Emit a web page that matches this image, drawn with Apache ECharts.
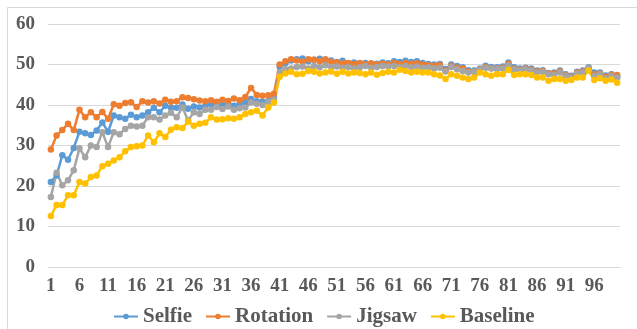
<!DOCTYPE html>
<html>
<head>
<meta charset="utf-8">
<script src="https://cdn.jsdelivr.net/npm/echarts@6/dist/echarts.min.js"></script>
<style>
  html, body { margin: 0; padding: 0; background: #fff; }
  #chart { width: 637px; height: 329px; }
</style>
</head>
<body>
<div id="chart"></div>
<script>
// epochs 1..100
const epochs = Array.from({ length: 100 }, (_, i) => String(i + 1))

const selfie = [
  21.0, 22.6, 27.6, 26.5, 29.4, 33.4, 33.0, 32.6, 33.7, 35.7,
  33.4, 37.4, 37.0, 36.6, 37.6, 37.0, 37.4, 38.2, 39.3, 38.2,
  39.8, 39.3, 39.3, 40.1, 39.1, 39.6, 39.4, 39.8, 40.2, 39.9,
  40.0, 40.3, 39.8, 40.3, 40.6, 41.5, 40.9, 40.8, 41.0, 41.8,
  49.5, 50.3, 51.0, 51.3, 51.5, 50.8, 51.2, 51.4, 50.8, 51.0,
  50.6, 50.9, 50.3, 50.5, 50.1, 50.4, 50.0, 50.2, 50.5, 50.3,
  50.8, 50.6, 50.9, 50.6, 50.8, 50.4, 50.1, 50.0, 50.1, 48.9,
  50.0, 49.6, 49.3, 48.6, 48.5, 49.0, 49.7, 49.4, 49.3, 49.5,
  50.5, 49.3, 49.0, 49.2, 49.0, 48.5, 48.6, 47.9, 48.0, 48.5,
  47.6, 47.2, 48.2, 48.5, 49.3, 48.0, 48.0, 47.3, 47.6, 47.0,
]

const rotation = [
  29.0, 32.5, 33.8, 35.4, 33.8, 38.8, 37.0, 38.2, 37.0, 38.3,
  36.6, 40.2, 39.8, 40.5, 40.7, 39.5, 40.9, 40.6, 40.9, 40.4,
  41.3, 40.8, 40.9, 41.9, 41.7, 41.4, 41.1, 40.9, 41.2, 40.8,
  41.3, 41.0, 41.6, 41.2, 42.0, 44.2, 42.5, 42.3, 42.4, 42.8,
  50.0, 50.8, 51.3, 51.0, 50.7, 51.3, 51.2, 50.8, 51.3, 50.7,
  50.5, 50.3, 50.4, 50.1, 50.4, 50.0, 50.3, 50.0, 50.2, 50.0,
  50.4, 50.1, 50.4, 50.2, 50.3, 50.0, 49.8, 49.7, 49.9, 48.5,
  49.6, 49.2, 49.0, 48.3, 48.2, 48.8, 49.4, 49.1, 49.0, 49.2,
  50.2, 49.0, 48.7, 49.0, 48.7, 48.3, 48.4, 47.8, 47.8, 48.3,
  47.4, 47.0, 48.0, 48.3, 49.0, 47.6, 47.8, 47.0, 47.5, 47.4,
]

const jigsaw = [
  17.3, 23.3, 20.2, 21.4, 23.9, 29.3, 27.1, 30.0, 29.6, 33.3,
  29.6, 33.3, 32.8, 34.1, 34.9, 34.7, 34.9, 37.0, 37.0, 36.4,
  37.4, 38.1, 37.0, 39.4, 36.2, 38.2, 37.8, 38.8, 38.8, 39.5,
  39.0, 39.6, 38.8, 39.2, 39.4, 40.6, 40.3, 40.0, 40.8, 41.3,
  48.0, 48.8, 49.0, 49.4, 49.5, 49.0, 49.6, 49.3, 49.8, 49.4,
  49.5, 49.2, 49.4, 49.0, 49.3, 49.6, 49.2, 49.4, 49.6, 49.5,
  49.6, 49.4, 49.6, 49.3, 49.5, 49.2, 49.3, 49.0, 49.2, 48.3,
  49.4, 48.8, 48.4, 48.0, 48.2, 48.8, 49.2, 49.0, 48.9, 49.0,
  49.8, 48.8, 48.6, 48.8, 48.5, 48.0, 48.2, 47.6, 47.4, 48.0,
  47.2, 46.8, 47.8, 48.0, 49.2, 47.2, 47.6, 46.6, 47.2, 46.7,
]

const baseline = [
  12.6, 15.3, 15.3, 17.7, 17.7, 21.0, 20.6, 22.2, 22.6, 24.9,
  25.5, 26.3, 27.1, 28.6, 29.6, 29.8, 30.0, 32.5, 30.8, 33.0,
  32.1, 33.9, 34.5, 34.3, 35.9, 34.9, 35.4, 35.6, 37.0, 36.4,
  36.5, 36.7, 36.6, 37.0, 37.8, 38.2, 38.6, 37.4, 39.4, 40.6,
  47.0, 47.8, 48.2, 47.6, 47.7, 48.4, 48.2, 47.8, 48.0, 48.3,
  47.7, 48.2, 47.8, 48.0, 47.9, 47.6, 48.0, 47.5, 47.9, 48.2,
  48.0, 48.7, 48.4, 48.0, 48.2, 48.0, 48.0, 47.6, 47.3, 46.4,
  47.6, 47.2, 46.8, 46.4, 46.8, 48.0, 47.6, 47.2, 47.6, 47.6,
  48.7, 47.4, 47.6, 47.6, 47.4, 46.8, 46.8, 46.0, 46.4, 46.4,
  46.0, 46.2, 46.8, 46.8, 48.5, 46.2, 46.6, 46.0, 46.3, 45.5,
]

const seriesNames = ["Selfie", "Rotation", "Jigsaw", "Baseline"]
const seriesData = [selfie, rotation, jigsaw, baseline]
const colors = ["#5B9BD5", "#ED7D31", "#A5A5A5", "#FFC000"]

const font = '"Liberation Serif", "Times New Roman", serif'
const textColor = "#595959"
const gridColor = "#D9D9D9"

const chart = echarts.init(document.getElementById("chart"))

const option = {
  backgroundColor: "#fff",
  animation: false,
  color: colors,
  graphic: [
    {
      type: "rect",
      shape: { x: 7.5, y: 7.5, width: 640, height: 340 },
      style: { fill: "none", stroke: gridColor, lineWidth: 1 },
      silent: true,
    },
  ],
  grid: {
    left: 48,
    right: 17,
    top: 24,
    bottom: 62,
  },
  legend: {
    data: seriesNames,
    left: 108,
    top: 301,
    itemWidth: 24,
    itemHeight: 7,
    itemGap: 13,
    textStyle: {
      fontFamily: font,
      fontWeight: "bold",
      fontSize: 21,
      color: textColor,
    },
  },
  xAxis: {
    type: "category",
    data: epochs,
    boundaryGap: true,
    axisLine: { lineStyle: { color: gridColor, width: 1 } },
    axisTick: { show: false },
    axisLabel: {
      interval: 4,
      margin: 10,
      fontFamily: font,
      fontWeight: "bold",
      fontSize: 19,
      color: textColor,
    },
  },
  yAxis: {
    type: "value",
    min: 0,
    max: 60,
    interval: 10,
    axisLine: { show: false },
    axisTick: { show: false },
    axisLabel: {
      margin: 13,
      fontFamily: font,
      fontWeight: "bold",
      fontSize: 19,
      color: textColor,
    },
    splitLine: { lineStyle: { color: gridColor, width: 1 } },
  },
  series: seriesNames.map((name, i) => ({
    name,
    type: "line",
    data: seriesData[i],
    symbol: "circle",
    symbolSize: 6.5,
    showAllSymbol: true,
    lineStyle: { width: 2.5, color: colors[i] },
    itemStyle: { color: colors[i] },
  })),
}

chart.setOption(option)
</script>
</body>
</html>
